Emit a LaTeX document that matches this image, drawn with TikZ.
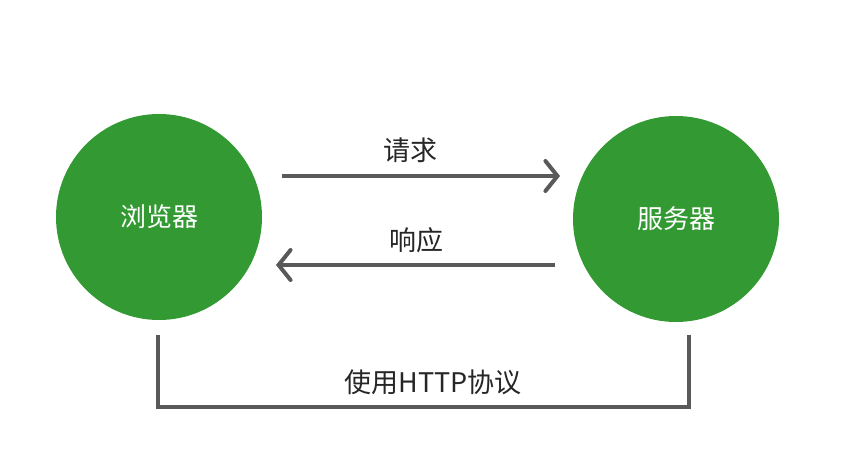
\documentclass[tikz,border=0pt]{standalone}
\usepackage{fontspec}
\setmainfont{Noto Sans CJK SC}
\usetikzlibrary{arrows.meta}
\definecolor{webgreen}{HTML}{339933}
\definecolor{linegray}{HTML}{595959}
\tikzset{
  peer/.style={circle, fill=webgreen, minimum size=206pt, inner sep=0pt, text=white, font=\fontsize{26}{30}\selectfont},
  msg/.style={line width=4pt, linegray, -{Straight Barb[length=12pt, width=30pt, line width=4pt, line cap=round]}},
  lbl/.style={font=\fontsize{27}{31}\selectfont, text=black!85}
}
\begin{document}
\begin{tikzpicture}[x=1pt, y=-1pt]
\useasboundingbox (0,0) rectangle (857,465);
\node[peer] (browser) at (159,217) {浏览器};
\node[peer] (server) at (676,219) {服务器};
% request / response
\coordinate (reqS) at (282,176);
\coordinate (reqE) at (560,176);
\coordinate (resS) at (555,265);
\coordinate (resE) at (276,265);
\draw[msg] (reqS) -- (reqE);
\node[lbl] (req) at (410,150) {请求};
\draw[msg] (resS) -- (resE);
\node[lbl] (res) at (416,240) {响应};
% protocol bracket
\coordinate (pl) at (158,335);
\coordinate (pr) at (689,335);
\draw[line width=4pt, linegray] (pl) -- (158,407) -- (689,407) -- (pr);
\node[lbl] (http) at (433,382) {使用HTTP协议};
\end{tikzpicture}
\end{document}
